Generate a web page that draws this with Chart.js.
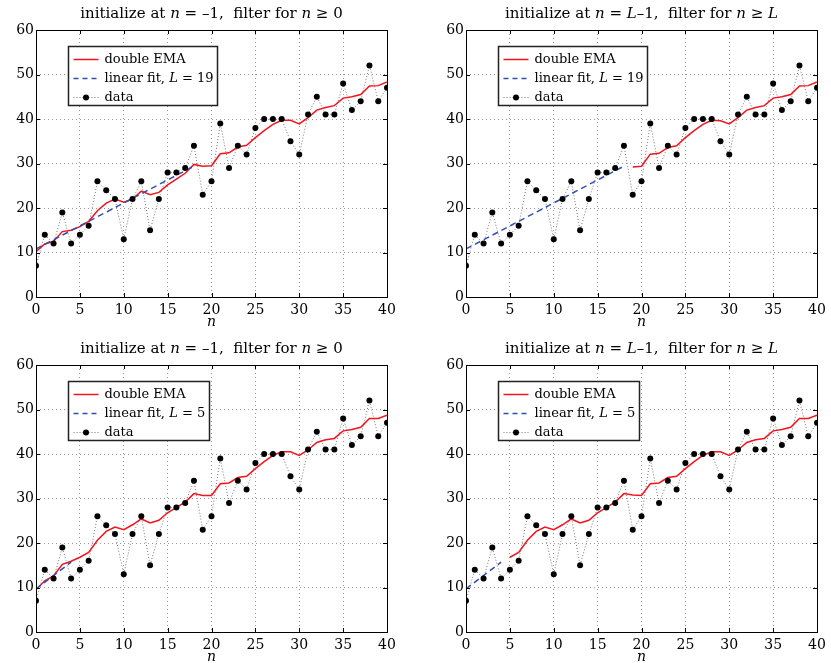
<!DOCTYPE html>
<html><head><meta charset="utf-8">
<script src="https://cdn.jsdelivr.net/npm/chart.js@4.4.0/dist/chart.umd.min.js"></script>
<style>
html,body{margin:0;padding:0;background:#fff;width:831px;height:663px;overflow:hidden;}
canvas{position:absolute;}
</style></head><body>
<canvas id="c1" width="415" height="335" style="left:0;top:0"></canvas>
<canvas id="c2" width="401" height="335" style="left:430px;top:0"></canvas>
<canvas id="c3" width="415" height="335" style="left:0;top:335px"></canvas>
<canvas id="c4" width="401" height="335" style="left:430px;top:335px"></canvas>
<script>
// ---- data ----
const nValues = [0,1,2,3,4,5,6,7,8,9,10,11,12,13,14,15,16,17,18,19,20,21,22,23,24,25,26,27,28,29,30,31,32,33,34,35,36,37,38,39,40];
const dataValues = [7,14,12,19,12,14,16,26,24,22,13,22,26,15,22,28,28,29,34,23,26,39,29,34,32,38,40,40,40,35,32,41,45,41,41,48,42,44,52,44,47];
// double EMA, L=19, initialized at n=-1 (n = 0..40)
const emaL19Start = [10.2,11.9,12.5,14.7,15.0,15.8,17.0,19.4,21.1,22.0,21.3,22.0,23.8,23.0,23.5,25.2,26.5,27.8,29.8,29.4,29.5,32.2,32.4,33.7,34.1,35.8,37.4,38.8,39.7,39.7,38.9,40.3,42.0,42.6,43.0,44.7,45.0,45.5,47.4,47.5,48.3];
// double EMA, L=19, initialized at n=L-1 (n = 19..40)
const emaL19Late = [29.2,29.4,32.1,32.3,33.6,34.0,35.8,37.4,38.8,39.7,39.6,38.9,40.3,42.0,42.6,43.0,44.7,45.0,45.5,47.4,47.5,48.3];
const emaL19LateStartN = 19;
// linear fit, L=19 (end points)
const fitL19N = [0,18];
const fitL19 = [10.8,29.4];
// double EMA, L=5, initialized at n=-1 (n = 0..40)
const emaL5Start = [9.5,11.5,12.6,15.2,15.9,16.8,17.9,20.6,22.6,23.6,23.0,24.1,25.4,24.5,25.1,26.8,28.0,29.2,31.1,30.7,30.7,33.3,33.5,34.7,35.0,36.7,38.3,39.7,40.5,40.5,39.7,40.9,42.6,43.2,43.5,45.2,45.5,46.0,48.0,48.0,48.7];
// double EMA, L=5, initialized at n=L-1 (n = 5..40)
const emaL5Late = [16.8,17.9,20.6,22.6,23.6,23.0,24.1,25.4,24.5,25.1,26.8,28.0,29.2,31.1,30.8,30.7,33.3,33.5,34.7,35.0,36.7,38.3,39.7,40.5,40.5,39.7,40.9,42.6,43.2,43.5,45.2,45.5,46.0,48.0,48.0,48.7];
const emaL5LateStartN = 5;
// linear fit, L=5 (end points)
const fitL5N = [0,4];
const fitL5 = [9.7,15.7];
const xTicks = [0,5,10,15,20,25,30,35,40];
const yTicks = [0,10,20,30,40,50,60];

const FONT = '"DejaVu Serif", "Liberation Serif", serif';
const TITLE_SIZE = 15, TICK_SIZE = 14, LEG_SIZE = 13;

function pts(ns, ys){ return ys.map((y,i)=>({x:ns[i], y:y})); }

function drawRich(ctx, segs, x, y, size, align){
  const ws = segs.map(s=>{ ctx.font=(s.i?'italic ':'')+size+'px '+FONT; return ctx.measureText(s.t).width; });
  const total = ws.reduce((a,b)=>a+b,0);
  let cx = align==='center' ? x-total/2 : x;
  ctx.textBaseline='middle'; ctx.textAlign='left'; ctx.fillStyle='#000';
  segs.forEach((s,k)=>{ ctx.font=(s.i?'italic ':'')+size+'px '+FONT; ctx.fillText(s.t,cx,y); cx+=ws[k]; });
  return total;
}
function measureRich(ctx, segs, size){
  return segs.map(s=>{ ctx.font=(s.i?'italic ':'')+size+'px '+FONT; return ctx.measureText(s.t).width; }).reduce((a,b)=>a+b,0);
}

const RED='#f5141e', BLUE='#2f4fb0';

function makePanel(id, titleSegs, emaPts, fitPts, Lval, rightPad){
  const legendRows = [
    {kind:'red', segs:[{t:'double EMA'}]},
    {kind:'blue', segs:[{t:'linear fit, '},{t:'L',i:true},{t:' = '+Lval}]},
    {kind:'data', segs:[{t:'data'}]}
  ];
  const deco = {
    id:'deco',
    afterDraw(chart){
      const ctx=chart.ctx, a=chart.chartArea;
      const xs=chart.scales.x, ys=chart.scales.y;
      ctx.save();
      // box
      ctx.strokeStyle='#000'; ctx.lineWidth=1; ctx.setLineDash([]);
      ctx.strokeRect(Math.round(a.left)+0.5, Math.round(a.top)+0.5, Math.round(a.right-a.left), Math.round(a.bottom-a.top));
      // inward ticks
      ctx.beginPath();
      xTicks.forEach(t=>{ const px=Math.round(xs.getPixelForValue(t))+0.5; ctx.moveTo(px,a.bottom); ctx.lineTo(px,a.bottom-4); ctx.moveTo(px,a.top); ctx.lineTo(px,a.top+4); });
      yTicks.forEach(t=>{ const py=Math.round(ys.getPixelForValue(t))+0.5; ctx.moveTo(a.left,py); ctx.lineTo(a.left+4,py); ctx.moveTo(a.right,py); ctx.lineTo(a.right-4,py); });
      ctx.stroke();
      // title
      drawRich(ctx, titleSegs, (a.left+a.right)/2, 14, TITLE_SIZE, 'center');
      // legend
      const lx=Math.round(a.left+32)+0.5, ly=Math.round(a.top+16)+0.5;
      const tw=Math.max(...legendRows.map(r=>measureRich(ctx,r.segs,LEG_SIZE)));
      const w=Math.round(5+25+6+tw+4), h=59;
      ctx.fillStyle='#fff'; ctx.fillRect(lx,ly,w,h);
      ctx.strokeStyle='#222'; ctx.lineWidth=1.5; ctx.strokeRect(lx,ly,w,h);
      legendRows.forEach((r,k)=>{
        const cy=Math.round(ly+12+k*19)+0.5;
        const x0=lx+5, x1=lx+30;
        ctx.beginPath();
        if(r.kind==='red'){ ctx.strokeStyle=RED; ctx.lineWidth=1.5; ctx.setLineDash([]); }
        else if(r.kind==='blue'){ ctx.strokeStyle=BLUE; ctx.lineWidth=1.5; ctx.setLineDash([5,4]); }
        else { ctx.strokeStyle='#777'; ctx.lineWidth=1; ctx.setLineDash([1,2]); }
        ctx.moveTo(x0,cy); ctx.lineTo(x1,cy); ctx.stroke(); ctx.setLineDash([]);
        if(r.kind==='data'){ ctx.fillStyle='#000'; ctx.beginPath(); ctx.arc((x0+x1)/2,cy,3,0,Math.PI*2); ctx.fill(); }
        drawRich(ctx, r.segs, lx+36, cy, LEG_SIZE, 'left');
      });
      ctx.restore();
    }
  };
  return new Chart(document.getElementById(id), {
    type:'line',
    data:{ datasets:[
      { label:'data', data:pts(nValues,dataValues), showLine:false, pointRadius:3, pointBackgroundColor:'#000', pointBorderWidth:0, order:0 },
      { label:'linear fit', data:fitPts, borderColor:BLUE, borderWidth:1.5, borderDash:[6,4], pointRadius:0, fill:false, order:1 },
      { label:'double EMA', data:emaPts, borderColor:RED, borderWidth:1.5, pointRadius:0, fill:false, order:2 },
      { label:'data line', data:pts(nValues,dataValues), borderColor:'#777', borderWidth:1, borderDash:[1,2], pointRadius:0, fill:false, order:3 }
    ]},
    options:{
      responsive:false, animation:false, events:[],
      layout:{ padding:{ top:30, right:rightPad, left:0, bottom:0 } },
      plugins:{ legend:{display:false}, tooltip:{enabled:false}, title:{display:false} },
      elements:{ line:{ tension:0 } },
      scales:{
        x:{ type:'linear', min:0, max:40,
            afterBuildTicks(s){ s.ticks = xTicks.map(v=>({value:v})); },
            afterFit(s){ s.height=38; },
            ticks:{ font:{family:FONT,size:TICK_SIZE}, color:'#000', padding:5, maxRotation:0, autoSkip:false },
            grid:{ color:'#999', lineWidth:1, drawTicks:false },
            border:{ display:false, dash:[1,3] },
            title:{ display:true, text:'n', font:{family:FONT,size:14,style:'italic'}, color:'#000', padding:{top:0,bottom:4} } },
        y:{ type:'linear', min:0, max:60,
            afterBuildTicks(s){ s.ticks = yTicks.map(v=>({value:v})); },
            afterFit(s){ s.width=36; },
            ticks:{ font:{family:FONT,size:TICK_SIZE}, color:'#000', padding:2, autoSkip:false },
            grid:{ color:'#999', lineWidth:1, drawTicks:false },
            border:{ display:false, dash:[1,3] } }
      }
    },
    plugins:[deco]
  });
}

const titleLeft = [{t:'initialize at '},{t:'n',i:true},{t:' = –1,  filter for '},{t:'n',i:true},{t:' ≥ 0'}];
const titleRight = [{t:'initialize at '},{t:'n',i:true},{t:' = '},{t:'L',i:true},{t:'–1,  filter for '},{t:'n',i:true},{t:' ≥ '},{t:'L',i:true}];

makePanel('c1', titleLeft, pts(nValues, emaL19Start), pts(fitL19N, fitL19), 19, 28);
makePanel('c2', titleRight, pts(nValues.slice(emaL19LateStartN), emaL19Late), pts(fitL19N, fitL19), 19, 14);
makePanel('c3', titleLeft, pts(nValues, emaL5Start), pts(fitL5N, fitL5), 5, 28);
makePanel('c4', titleRight, pts(nValues.slice(emaL5LateStartN), emaL5Late), pts(fitL5N, fitL5), 5, 14);
</script>
</body></html>
